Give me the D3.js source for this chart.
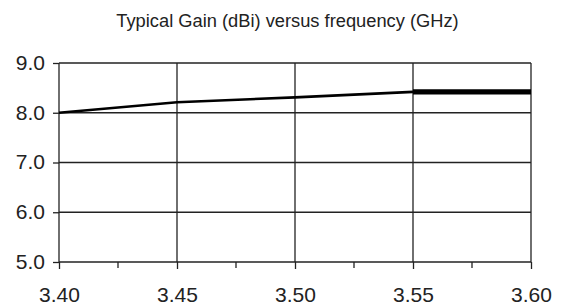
<!DOCTYPE html>
<html><head><meta charset="utf-8">
<script src="https://cdn.jsdelivr.net/npm/d3@7"></script>
<style>body{margin:0;background:#fff}svg{display:block}</style>
</head><body><svg id="c" width="566" height="305"></svg>
<script>
const title = "Typical Gain (dBi) versus frequency (GHz)";
const freq = [3.40, 3.45, 3.50, 3.55, 3.60];
const gain = [8.00, 8.21, 8.31, 8.42, 8.42];
const xTicks = [3.40, 3.45, 3.50, 3.55, 3.60];
const xMinor = [3.425, 3.475, 3.525, 3.575];
const yTicks = [5, 6, 7, 8, 9];

const svg = d3.select("#c");
const m = {l:59, r:35, t:63, b:43};
const W = 566, H = 305;
const x = d3.scaleLinear().domain([3.40, 3.60]).range([m.l, W - m.r]);
const y = d3.scaleLinear().domain([5, 9]).range([H - m.b, m.t]);
const gc = "#222";
const ff = "Liberation Sans, Arial, sans-serif";

svg.append("text").attr("x", 287.5).attr("y", 27).attr("text-anchor", "middle")
  .attr("font-family", ff).attr("font-size", 18.3)
  .attr("fill", "#222").text(title);

// horizontal grid
svg.append("g").selectAll("line").data(yTicks).join("line")
  .attr("x1", x(3.40)).attr("x2", x(3.60))
  .attr("y1", d => y(d)).attr("y2", d => y(d))
  .attr("stroke", gc).attr("stroke-width", 1.3);
// vertical grid
svg.append("g").selectAll("line").data(xTicks).join("line")
  .attr("x1", d => x(d)).attr("x2", d => x(d))
  .attr("y1", y(9)).attr("y2", y(5))
  .attr("stroke", gc).attr("stroke-width", 1.3);

// y axis
const ya = svg.append("g").attr("transform", `translate(${m.l},0)`)
  .call(d3.axisLeft(y).tickValues(yTicks).tickSize(6).tickPadding(8).tickFormat(d3.format(".1f")));
ya.select(".domain").remove();
ya.selectAll("line").attr("stroke", gc).attr("stroke-width", 1.3);
ya.selectAll("text").attr("font-family", ff).attr("font-size", 21).attr("fill", "#222").attr("dy", "0.3em");

// x axis
const xa = svg.append("g").attr("transform", `translate(0,${H - m.b})`)
  .call(d3.axisBottom(x).tickValues(xTicks).tickSize(7).tickPadding(18).tickFormat(d3.format(".2f")));
xa.select(".domain").remove();
xa.selectAll("line").attr("stroke", gc).attr("stroke-width", 1.3);
xa.selectAll("text").attr("font-family", ff).attr("font-size", 21).attr("fill", "#222");
svg.append("g").attr("transform", `translate(0,${H - m.b})`).selectAll("line").data(xMinor).join("line")
  .attr("x1", d => x(d)).attr("x2", d => x(d)).attr("y1", 0).attr("y2", 6)
  .attr("stroke", gc).attr("stroke-width", 1.3);

// data line
const pts = freq.map((f, i) => [f, gain[i]]);
svg.append("path").datum(pts.slice(0, 4))
  .attr("d", d3.line().x(d => x(d[0])).y(d => y(d[1])))
  .attr("fill", "none").attr("stroke", "#000").attr("stroke-width", 2.6);
svg.append("path").datum(pts.slice(3))
  .attr("d", d3.line().x(d => x(d[0])).y(d => y(d[1])))
  .attr("fill", "none").attr("stroke", "#000").attr("stroke-width", 5.2);
</script></body></html>
